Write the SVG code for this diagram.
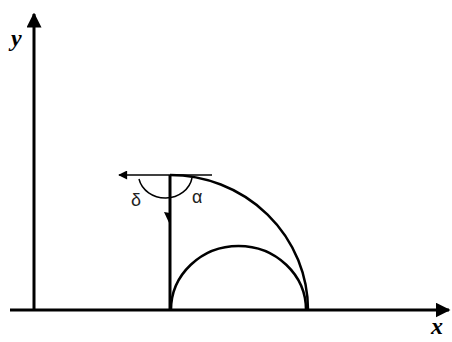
<svg xmlns="http://www.w3.org/2000/svg" width="452" height="342" viewBox="0 0 452 342">
<style>
.ax{stroke:#000;stroke-width:3;fill:none}
.cv{stroke:#000;stroke-width:2.5;fill:none}
.thin{stroke:#000;stroke-width:1.5;fill:none}
.lbl{font-family:"Liberation Serif",serif;font-weight:bold;font-style:italic;font-size:24px;fill:#000}
.gr{font-family:"Liberation Sans",sans-serif;font-size:18px;fill:#222}
</style>
<defs>
<marker id="ah" viewBox="0 0 10 10" refX="9" refY="5" markerWidth="5" markerHeight="5" orient="auto" markerUnits="strokeWidth">
<path d="M0,0 L10,5 L0,10 Z" fill="#000"/>
</marker>
<marker id="ah2" viewBox="0 0 10 10" refX="9" refY="5" markerWidth="7" markerHeight="6" orient="auto" markerUnits="strokeWidth">
<path d="M0,0 L10,5 L0,10 Z" fill="#000"/>
</marker>
</defs>
<g id="axes">
<path class="ax" d="M34,310 V14" marker-end="url(#ah)"/>
<path class="ax" d="M10,310 H449" marker-end="url(#ah)"/>
<text class="lbl" x="11" y="46">y</text>
<text class="lbl" x="431" y="334">x</text>
</g>
<g id="connectors">
<path class="ax" d="M170,175 V310"/>
<path class="thin" d="M212,175 H119" marker-end="url(#ah2)"/>
<path d="M164,212 L170,213 L170,225 Z" fill="#000"/>
<path class="thin" d="M139,179 A27,24 0 0 0 192,178"/>
<path class="cv" d="M170,175 A138,135 0 0 1 308,310"/>
<path class="cv" d="M171,310 A67.5,64 0 0 1 306,310"/>
</g>
<g id="labels">
<text class="gr" x="131" y="206">δ</text>
<text class="gr" x="192" y="203">α</text>
</g>
</svg>
